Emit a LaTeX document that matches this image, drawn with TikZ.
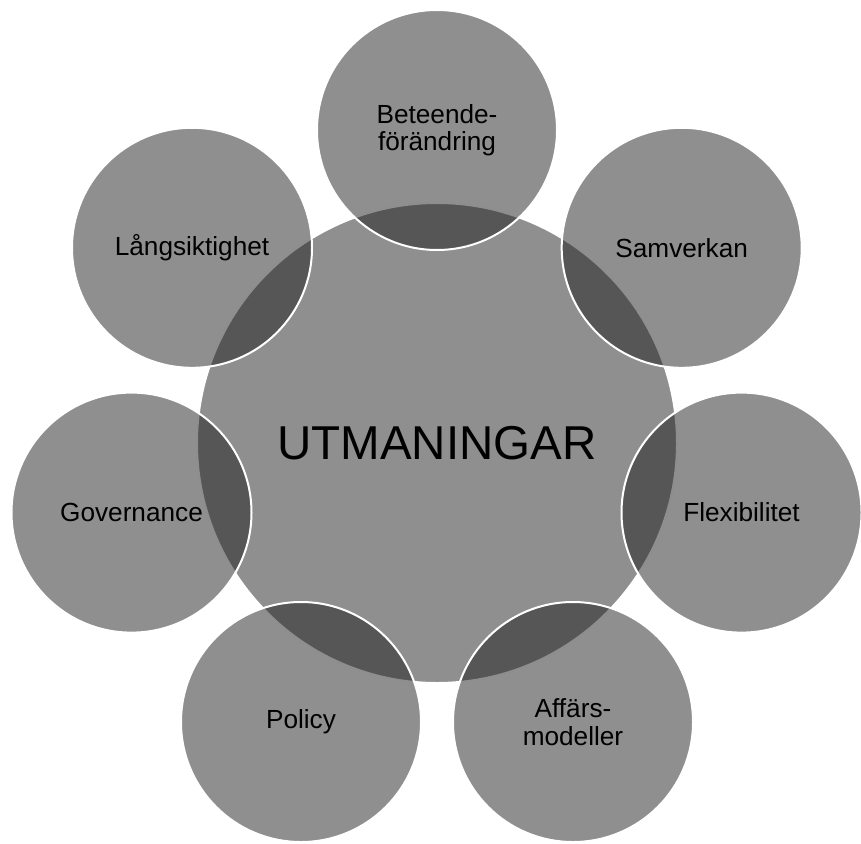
\documentclass[tikz,border=0pt]{standalone}
\usepackage{fontspec}
\setmainfont{Liberation Sans}
\usepackage{tikz}
\tikzstyle{hub}=[circle,fill=black!88,fill opacity=0.5,text opacity=1,draw=white,line width=2pt,minimum size=480pt,inner sep=0pt,font=\fontsize{47.5}{52}\selectfont]
\tikzstyle{topic}=[circle,fill=black!88,fill opacity=0.5,text opacity=1,draw=white,line width=2pt,minimum size=240pt,inner sep=0pt,align=center,font=\fontsize{26.2}{27.5}\selectfont]

\begin{document}
\begin{tikzpicture}[x=1pt,y=-1pt]
\useasboundingbox (0,0) rectangle (861,843);
\node[hub] at (437, 443) (center) {UTMANINGAR};
\node[topic] at (437, 130) (beteende) {Beteende-\\förändring};
\node[topic] at (681.7, 247.8) (samverkan) {Samverkan};
\node[topic] at (741.5, 512.6) (flex) {Flexibilitet};
\node[topic] at (573, 722) (affar) {Affärs-\\modeller};
\node[topic] at (301, 722) (policy) {Policy};
\node[topic] at (131.5, 512.6) (governance) {Governance};
\node[topic] at (192, 247.8) (lang) {Långsiktighet};
\end{tikzpicture}
\end{document}
